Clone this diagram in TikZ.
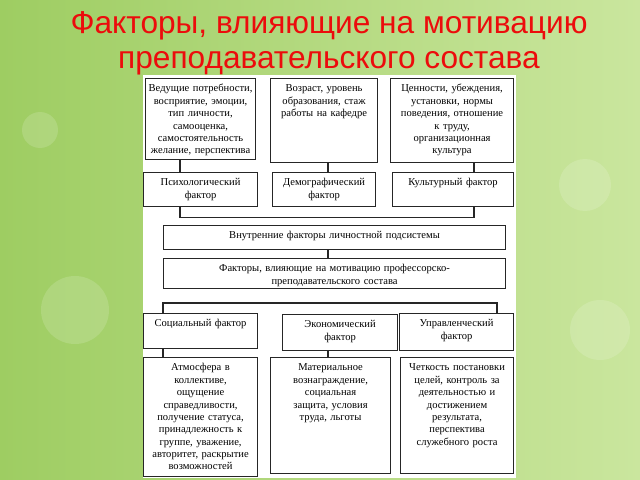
\documentclass[tikz,border=0pt]{standalone}
\usepackage{fontspec}
\setmainfont{Liberation Serif}
\newfontfamily\titlefont{Liberation Sans}

\def\px{0.025cm}                         % one pixel of the 640x480 slide
\definecolor{bgleft}{RGB}{158,205,98}
\definecolor{bgmid}{RGB}{230,243,196}
\definecolor{bgright}{RGB}{202,230,158}
\definecolor{titlered}{RGB}{236,12,12}

\tikzset{
  box/.style={draw=black!85, line width=0.8pt, fill=white, anchor=north west,
    align=center, inner xsep=2pt, inner ysep=3pt, text height=6.5pt,
    font=\fontsize{7.5}{8.8}\selectfont},
  link/.style={draw=black!85, line width=0.8pt},
}

\begin{document}
\begin{tikzpicture}[x=\px, y=-\px]
  \useasboundingbox (0,0) rectangle (640,480);
  % slide background
  \shade[left color=bgleft, middle color=bgmid, right color=bgright] (0,0) rectangle (640,480);
  \fill[white, opacity=.15] (75,310) circle (34) (40,130) circle (18) (585,185) circle (26) (600,330) circle (30);
  \fill[white] (143,75) rectangle (516,478);    % panel of the scheme
  \node[font=\titlefont\fontsize{22.5}{25}\selectfont, text=titlered, align=center] (title)
    at (329,43) {Факторы, влияющие на мотивацию\\преподавательского состава};
  % boxes: name / left / top / right / bottom / text
  \foreach \nm/\xa/\ya/\xb/\yb/\txt in {
      need/145/78/255/159/{Ведущие потребности,\\восприятие, эмоции,\\тип личности,\\самооценка,\\самостоятельность\\желание, перспектива},
      vozr/270/78/377/162/{Возраст, уровень\\образования, стаж\\работы на кафедре},
      cenn/390/78/513/162/{Ценности, убеждения,\\установки, нормы\\поведения, отношение\\к труду,\\организационная\\культура},
      psy/143/172/257/206/{Психологический\\фактор},
      dem/272/172/375/206/{Демографический\\фактор},
      cul/392/172/513/206/{Культурный фактор},
      vnutr/163/225/505/249/{Внутренние факторы личностной подсистемы},
      fmot/163/258/505/288/{Факторы, влияющие на мотивацию профессорско-\\преподавательского состава},
      soc/143/313/257/348/{Социальный фактор},
      eco/282/314/397/350/{Экономический\\фактор},
      upr/399/313/513/350/{Управленческий\\фактор},
      atm/143/357/257/476/{Атмосфера в\\коллективе,\\ощущение\\справедливости,\\получение статуса,\\принадлежность к\\группе, уважение,\\авторитет, раскрытие\\возможностей},
      mat/270/357/390/473/{Материальное\\вознаграждение,\\социальная\\защита, условия\\труда, льготы},
      chet/400/357/513/473/{Четкость постановки\\целей, контроль за\\деятельностью и\\достижением\\результата,\\перспектива\\служебного роста}
    } {
      \node[box, text width={(\xb-\xa)*\px-4pt}, text depth={(\yb-\ya)*\px-12.5pt}] (\nm) at (\xa,\ya) {\txt};
    };
  % x positions of the connectors
  \coordinate (cl) at (180,0);
  \coordinate (cm) at (328,0);
  \coordinate (cr) at (474,0);
  \coordinate (ll) at (163,0);
  \coordinate (rr) at (497,0);
  \draw[link] (need.south -| cl) -- (psy.north -| cl);
  \draw[link] (vozr.south -| cm) -- (dem.north -| cm);
  \draw[link] (cenn.south -| cr) -- (cul.north -| cr);
  \draw[link] (psy.south -| cl) -- ++(0,10) -| (cul.south -| cr);
  \draw[link] (vnutr.south -| cm) -- (fmot.north -| cm);
  \draw[link] (soc.north -| ll) -- ++(0,-10) -| (upr.north -| rr);
  \draw[link] (soc.south -| ll) -- (atm.north -| ll);
  \draw[link] (eco.south -| cm) -- (mat.north -| cm);
\end{tikzpicture}
\end{document}
